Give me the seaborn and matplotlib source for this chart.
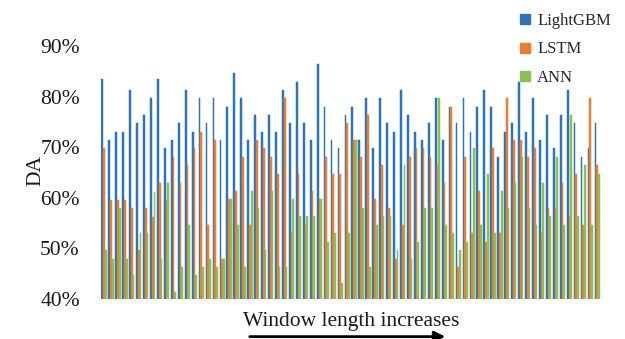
import matplotlib
matplotlib.use("Agg")
import matplotlib.pyplot as plt
import pandas as pd
import seaborn as sns
from matplotlib.lines import Line2D

models = ["LightGBM", "LSTM", "ANN"]
colors = ["#2E75B6", "#ED7D31", "#8CC152"]

lightgbm = [83.5, 71.4, 73.1, 73.1, 81.3, 74.7, 76.4, 79.7, 83.5, 69.8,
            71.4, 74.7, 81.3, 73.1, 79.7, 74.7, 79.7, 71.4, 78.0, 84.7,
            79.7, 71.4, 76.4, 73.1, 76.4, 73.1, 81.3, 74.7, 82.9, 74.7,
            71.4, 86.4, 78.0, 71.4, 69.8, 76.4, 78.0, 71.4, 79.7, 69.8,
            79.7, 74.7, 73.1, 81.3, 76.4, 73.1, 71.4, 74.7, 79.7, 71.4,
            78.0, 74.7, 79.7, 73.1, 78.0, 81.3, 78.0, 68.1, 73.1, 74.7,
            82.9, 73.1, 79.7, 71.4, 76.4, 69.8, 76.4, 81.3, 74.7, 68.1,
            69.8, 74.7]
lstm = [69.8, 59.6, 59.6, 59.6, 57.9, 49.7, 57.9, 56.3, 63.0, 59.6,
        68.1, 63.0, 66.4, 69.8, 73.1, 54.6, 71.4, 48.0, 59.7, 61.3,
        68.1, 54.6, 71.4, 69.8, 68.1, 64.7, 79.7, 53.1, 64.7, 54.6,
        61.3, 59.7, 68.1, 64.7, 64.7, 74.7, 71.4, 68.1, 76.4, 59.7,
        66.4, 58.0, 48.0, 54.6, 68.1, 69.8, 69.8, 68.1, 66.4, 63.0,
        78.0, 46.4, 68.1, 53.0, 61.3, 51.3, 69.8, 53.0, 79.7, 71.4,
        71.4, 68.1, 69.8, 53.0, 58.0, 58.0, 63.0, 56.4, 64.7, 54.6,
        79.7, 66.4]
ann = [49.7, 48.0, 58.0, 48.0, 44.7, 53.0, 53.0, 61.2, 48.0, 63.0,
       41.4, 46.4, 54.6, 44.7, 46.4, 48.0, 46.4, 48.0, 59.7, 54.6,
       46.4, 61.3, 58.0, 49.7, 61.3, 46.4, 46.4, 59.7, 56.4, 56.4,
       56.4, 59.7, 51.3, 53.0, 43.1, 53.0, 71.4, 58.0, 46.4, 54.6,
       56.4, 56.4, 49.7, 66.4, 48.0, 51.3, 58.0, 58.0, 79.7, 54.6,
       53.0, 49.7, 51.3, 69.8, 54.6, 64.7, 53.0, 61.3, 58.0, 63.0,
       68.1, 58.0, 54.6, 63.0, 56.4, 68.1, 54.6, 76.4, 56.4, 66.4,
       54.6, 64.7]
yticks = [40, 50, 60, 70, 80, 90]

n = len(lightgbm)
window = list(range(1, n + 1))
df = pd.DataFrame({
    "window": window * 3,
    "DA": lightgbm + lstm + ann,
    "model": [m for m in models for _ in range(n)],
})

sns.set_theme(style="white")
plt.rcParams["font.family"] = ["Liberation Serif", "DejaVu Serif"]

fig = plt.figure(figsize=(6.25, 3.39), dpi=100)
ax = fig.add_axes([0.161, 0.118, 0.80, 0.746])
sns.barplot(data=df, x="window", y="DA", hue="model", hue_order=models,
            palette=colors, width=0.75, linewidth=0, saturation=1,
            ax=ax, legend=False)
for p in ax.patches:
    p.set_edgecolor(p.get_facecolor())
    p.set_linewidth(0.35)
ax.set_ylim(40, 90)
ax.set_yticks(yticks)
ax.set_yticklabels([f"{t}%" for t in yticks], fontsize=15.5, color="#1a1a1a")
ax.set_xticks([])
ax.set_xlabel("")
ax.set_ylabel("")
for s in ax.spines.values():
    s.set_visible(False)
ax.tick_params(axis="y", length=0, pad=15)

fig.text(36 / 625, 0.498, "DA", rotation=90, ha="center", va="center",
         fontsize=15.5, color="#1a1a1a")
fig.text(351 / 625, 0.052, "Window length increases", ha="center", va="center",
         fontsize=15.5, color="#1a1a1a")
ax.annotate("", xy=(448 / 625, 0.007), xytext=(247 / 625, 0.007),
            xycoords="figure fraction", textcoords="figure fraction",
            arrowprops=dict(arrowstyle="-|>", lw=2, color="black", mutation_scale=16))

handles = [Line2D([], [], marker="s", linestyle="", color=c, markersize=7) for c in colors]
fig.legend(handles, models, loc="upper left", bbox_to_anchor=(0.830, 0.962),
           frameon=False, fontsize=12, handlelength=0.8, handletextpad=0.3,
           labelspacing=0.75, borderpad=0, borderaxespad=0)

fig.savefig("out.png", dpi=100)
